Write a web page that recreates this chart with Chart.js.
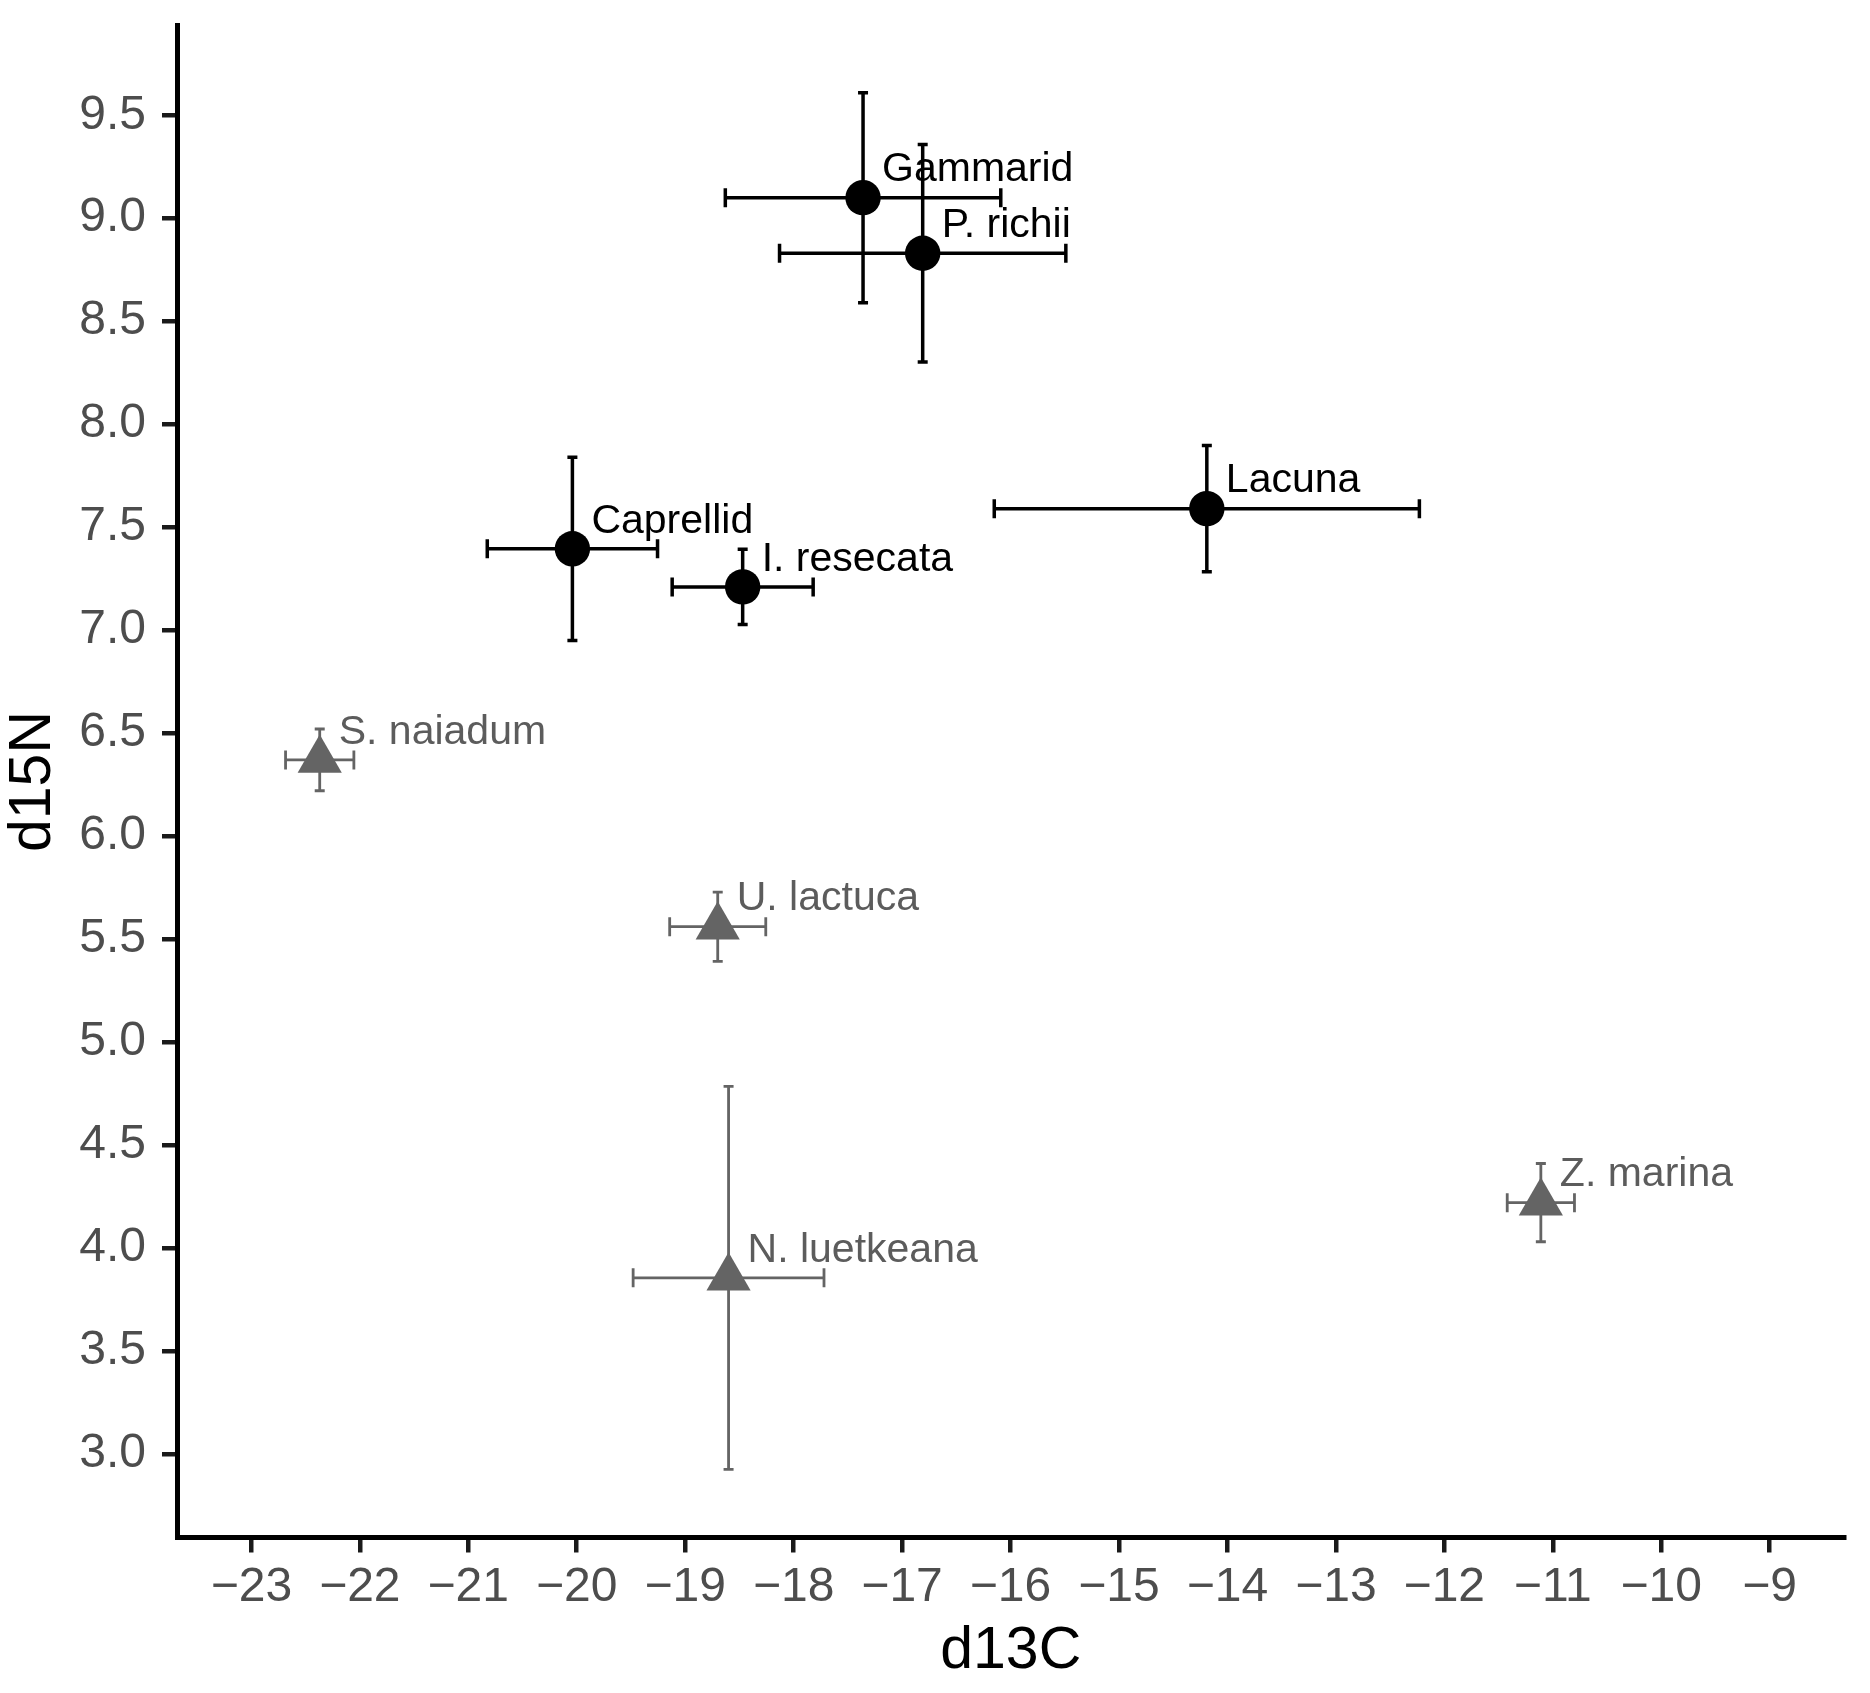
<!DOCTYPE html>
<html>
<head>
<meta charset="utf-8">
<script src="https://cdn.jsdelivr.net/npm/chart.js@4.4.1/dist/chart.umd.min.js"></script>
<style>
  html, body { margin: 0; padding: 0; background: #ffffff; }
  #wrap { width: 1870px; height: 1693px; }
</style>
</head>
<body>
<div id="wrap"><canvas id="c" width="1870" height="1693"></canvas></div>
<script>
// ---- data ----
const species  = ['Gammarid', 'P. richii', 'Lacuna', 'Caprellid', 'I. resecata',
                  'S. naiadum', 'U. lactuca', 'N. luetkeana', 'Z. marina'];
const group    = ['consumer', 'consumer', 'consumer', 'consumer', 'consumer',
                  'producer', 'producer', 'producer', 'producer'];
const d13C     = [-17.36, -16.81, -14.19, -20.04, -18.47, -22.37, -18.70, -18.60, -11.11];
const d13C_err = [1.27, 1.32, 1.96, 0.785, 0.65, 0.315, 0.443, 0.88, 0.31];
const d15N     = [9.10, 8.83, 7.59, 7.395, 7.21, 6.37, 5.56, 3.855, 4.22];
const d15N_err = [0.51, 0.528, 0.307, 0.445, 0.183, 0.15, 0.168, 0.93, 0.19];

const xTicks = [-23, -22, -21, -20, -19, -18, -17, -16, -15, -14, -13, -12, -11, -10, -9];
const yTicks = [3.0, 3.5, 4.0, 4.5, 5.0, 5.5, 6.0, 6.5, 7.0, 7.5, 8.0, 8.5, 9.0, 9.5];
const xRange = [-23.686, -8.31];
const yRange = [2.594, 9.936];
const xTitle = 'd13C';
const yTitle = 'd15N';

// ---- styling ----
const FONT = '"Liberation Sans", Arial, Helvetica, sans-serif';
const styles = {
  consumer: { color: '#000000', text: '#000000', style: 'circle', radius: 17.7, lw: 3.5 },
  producer: { color: '#646464', text: '#5c5c5c', style: 'triangle', radius: 25.5, lw: 2.8 }
};

function buildData(g) {
  const out = [];
  species.forEach((s, i) => {
    if (group[i] === g) out.push({ x: d13C[i], y: d15N[i], xe: d13C_err[i], ye: d15N_err[i], name: s });
  });
  return out;
}

const errorBars = {
  id: 'errorBars',
  beforeDatasetsDraw(chart) {
    const { ctx, scales: { x, y } } = chart;
    chart.data.datasets.forEach(ds => {
      const st = styles[ds.grp];
      ctx.save();
      ctx.strokeStyle = st.color;
      ctx.lineWidth = st.lw;
      ctx.lineCap = 'butt';
      ds.data.forEach(p => {
        const px = x.getPixelForValue(p.x), py = y.getPixelForValue(p.y);
        const x0 = x.getPixelForValue(p.x - p.xe), x1 = x.getPixelForValue(p.x + p.xe);
        const y0 = y.getPixelForValue(p.y - p.ye), y1 = y.getPixelForValue(p.y + p.ye);
        const capH = 9.5, capV = 5;
        ctx.beginPath();
        // horizontal bar
        ctx.moveTo(x0, py); ctx.lineTo(x1, py);
        ctx.moveTo(x0, py - capH); ctx.lineTo(x0, py + capH);
        ctx.moveTo(x1, py - capH); ctx.lineTo(x1, py + capH);
        // vertical bar
        ctx.moveTo(px, y0); ctx.lineTo(px, y1);
        ctx.moveTo(px - capV, y0); ctx.lineTo(px + capV, y0);
        ctx.moveTo(px - capV, y1); ctx.lineTo(px + capV, y1);
        ctx.stroke();
      });
      ctx.restore();
    });
  }
};

const pointLabels = {
  id: 'pointLabels',
  afterDatasetsDraw(chart) {
    const { ctx, scales: { x, y } } = chart;
    chart.data.datasets.forEach(ds => {
      const st = styles[ds.grp];
      ctx.save();
      ctx.fillStyle = st.text;
      ctx.font = '41px ' + FONT;
      ctx.textAlign = 'left';
      ctx.textBaseline = 'middle';
      ds.data.forEach(p => {
        const px = x.getPixelForValue(p.x), py = y.getPixelForValue(p.y);
        ctx.fillText(p.name, px + 19, py - 27.5);
      });
      ctx.restore();
    });
  }
};

function mkDataset(g) {
  const st = styles[g];
  return {
    grp: g,
    data: buildData(g),
    pointStyle: st.style,
    pointRadius: st.radius,
    pointHoverRadius: st.radius,
    pointBackgroundColor: st.color,
    pointBorderColor: st.color,
    pointBorderWidth: 0,
    showLine: false
  };
}

function noPad(s) { s.paddingTop = 0; s.paddingBottom = 0; s.paddingLeft = 0; s.paddingRight = 0; }

new Chart(document.getElementById('c'), {
  type: 'scatter',
  data: { datasets: [mkDataset('consumer'), mkDataset('producer')] },
  plugins: [errorBars, pointLabels],
  options: {
    responsive: false,
    animation: false,
    devicePixelRatio: 1,
    layout: { padding: { left: 0, top: 16, right: 20, bottom: 0 } },
    plugins: { legend: { display: false }, tooltip: { enabled: false } },
    scales: {
      x: {
        type: 'linear',
        min: xRange[0], max: xRange[1],
        afterBuildTicks: s => { s.ticks = xTicks.map(v => ({ value: v })); },
        afterFit: s => { s.height = 155.5; noPad(s); },
        border: { display: true, color: '#000000', width: 5 },
        grid: { display: true, drawOnChartArea: false, drawTicks: true, tickLength: 15, color: '#1a1a1a', lineWidth: 4.5 },
        ticks: {
          color: '#4d4d4d', padding: 11,
          font: { family: FONT, size: 48, lineHeight: 1 },
          maxRotation: 0, autoSkip: false,
          callback: v => (v < 0 ? '\u2212' + Math.abs(v) : String(v))
        },
        title: { display: true, text: xTitle, color: '#000000',
                 font: { family: FONT, size: 59, lineHeight: 1 }, padding: { top: 0, bottom: 11.5 } }
      },
      y: {
        type: 'linear',
        min: yRange[0], max: yRange[1],
        afterBuildTicks: s => { s.ticks = yTicks.map(v => ({ value: v })); },
        afterFit: s => { s.width = 177; noPad(s); },
        border: { display: true, color: '#000000', width: 5 },
        grid: { display: true, drawOnChartArea: false, drawTicks: true, tickLength: 15, color: '#1a1a1a', lineWidth: 4.5 },
        ticks: {
          color: '#4d4d4d', padding: 16,
          font: { family: FONT, size: 48, lineHeight: 1 },
          autoSkip: false,
          callback: v => v.toFixed(1)
        },
        title: { display: true, text: yTitle, color: '#000000',
                 font: { family: FONT, size: 59, lineHeight: 1 }, padding: { top: 4.5, bottom: 0 } }
      }
    }
  }
});
</script>
</body>
</html>
